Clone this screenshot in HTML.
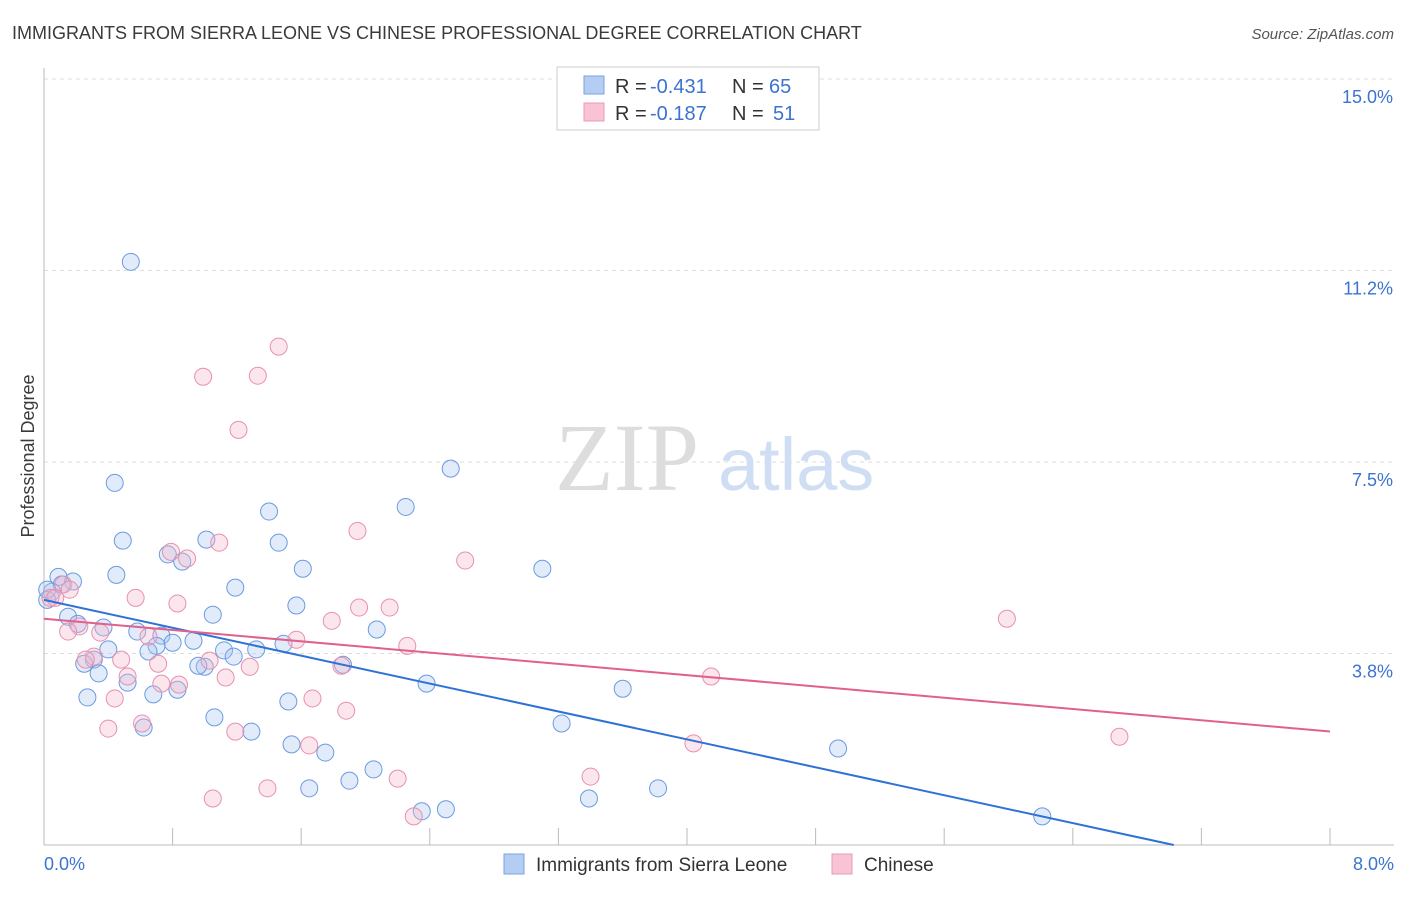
<!DOCTYPE html>
<html><head><meta charset="utf-8"><style>
body{margin:0;background:#fff;font-family:"Liberation Sans",sans-serif;}
</style></head><body>
<svg width="1406" height="892" viewBox="0 0 1406 892" xmlns="http://www.w3.org/2000/svg">
<text x="12" y="39" font-size="18" fill="#3a3a3a">IMMIGRANTS FROM SIERRA LEONE VS CHINESE PROFESSIONAL DEGREE CORRELATION CHART</text>
<text x="1394" y="39" font-size="15" fill="#555" font-style="italic" text-anchor="end">Source: ZipAtlas.com</text>
<g id="grid"></g>
<text x="555" y="490" font-size="96" fill="#ddd" font-family="Liberation Serif,serif">ZIP</text>
<text x="718" y="490" font-size="74" fill="#d0def3">atlas</text>
<text x="34" y="456" font-size="18" fill="#3a3a3a" transform="rotate(-90 34 456)" text-anchor="middle">Professional Degree</text>
<g id="marks"></g>
<g>
<rect x="557" y="67" width="262" height="63" fill="#fff" stroke="#ccc"/>
<rect x="584" y="76" width="20" height="18" fill="#b4cdf2" stroke="#7aa3e0"/>
<rect x="584" y="103" width="20" height="18" fill="#f8c3d4" stroke="#eb9ab5"/>
<text x="615" y="93" font-size="20" fill="#333">R =</text>
<text x="650" y="93" font-size="20" fill="#3b73d1">-0.431</text>
<text x="732" y="93" font-size="20" fill="#333">N =</text>
<text x="769" y="93" font-size="20" fill="#3b73d1">65</text>
<text x="615" y="120" font-size="20" fill="#333">R =</text>
<text x="650" y="120" font-size="20" fill="#3b73d1">-0.187</text>
<text x="732" y="120" font-size="20" fill="#333">N =</text>
<text x="773" y="120" font-size="20" fill="#3b73d1">51</text>
</g>
<g>
<rect x="504" y="854" width="20" height="20" fill="#b4cdf2" stroke="#7aa3e0"/>
<text x="536" y="871" font-size="19" fill="#333">Immigrants from Sierra Leone</text>
<rect x="832" y="854" width="20" height="20" fill="#f8c3d4" stroke="#eb9ab5"/>
<text x="864" y="871" font-size="19" fill="#333">Chinese</text>
</g>
</svg>
<script>
const xTicks=[0,0.8,1.6,2.4,3.2,4,4.8,5.6,6.4,7.2,8];
const yTicks=[3.75,7.5,11.25,15];
const yTickLabels=["3.8%","7.5%","11.2%","15.0%"];
const xTickLabels=["0.0%","8.0%"];
const blueX=[0.54,0.44,2.53,2.25,1.40,0.49,1.01,1.46,0.77,0.86,1.61,3.10,0.45,0.18,0.09,0.11,1.19,0.05,1.57,1.05,0.15,0.21,2.07,0.37,0.58,0.73,0.93,0.80,0.70,1.49,1.32,0.40,1.12,0.65,1.18,0.31,0.25,1.00,0.96,1.86,0.34,0.52,2.38,3.60,0.83,0.68,0.27,1.52,1.06,3.22,0.62,1.29,1.54,1.75,4.94,2.05,1.90,1.65,3.82,3.39,2.35,2.50,6.21,0.02,0.02];
const blueY=[11.42,7.09,7.37,6.62,6.53,5.96,5.98,5.92,5.69,5.55,5.41,5.41,5.29,5.16,5.25,5.10,5.04,4.96,4.69,4.51,4.47,4.33,4.22,4.26,4.18,4.10,4.00,3.96,3.90,3.94,3.83,3.83,3.81,3.79,3.69,3.63,3.55,3.49,3.51,3.53,3.36,3.18,3.16,3.06,3.04,2.95,2.89,2.81,2.50,2.38,2.30,2.22,1.97,1.81,1.89,1.48,1.26,1.11,1.11,0.91,0.66,0.70,0.56,4.80,5.00];
const pinkX=[1.46,0.99,1.33,1.21,1.95,1.09,2.62,0.79,0.89,0.57,0.83,0.04,0.12,1.96,2.15,5.99,1.79,0.22,0.35,0.15,0.65,1.57,2.26,0.31,0.48,1.03,0.71,1.28,1.85,0.52,1.13,0.84,0.73,0.44,1.67,1.88,4.15,0.61,0.40,1.19,1.65,4.04,6.69,2.20,3.40,1.39,1.05,2.30,0.07,0.16,0.26];
const pinkY=[9.76,9.17,9.19,8.13,6.15,5.92,5.57,5.74,5.61,4.84,4.73,4.84,5.10,4.65,4.65,4.43,4.39,4.28,4.16,4.18,4.08,4.02,3.90,3.69,3.63,3.61,3.55,3.49,3.51,3.30,3.28,3.14,3.16,2.87,2.87,2.63,3.30,2.38,2.28,2.22,1.95,1.99,2.12,1.30,1.34,1.11,0.91,0.56,4.84,5.00,3.63];
const blueTrend=[4.80,-0.683];
const pinkTrend=[4.43,-0.276];
const X0=44,X1=1330,Y0=845,YTOP=79;
const xs=v=>X0+v/8*(X1-X0);
const ys=v=>Y0-v/15*(Y0-YTOP);
const NS="http://www.w3.org/2000/svg";
function mk(p,t,a){const e=document.createElementNS(NS,t);for(const k in a)e.setAttribute(k,a[k]);p.appendChild(e);return e;}
const g=document.getElementById('grid');
yTicks.forEach((t,i)=>{
 const l=mk(g,'line',{x1:X0,x2:1394,y1:ys(t),y2:ys(t),stroke:'#ddd','stroke-dasharray':'4,4'});
 
 
 const tx=mk(g,'text',{x:1393,y:ys(t)+24,'font-size':18,fill:'#3b73d1','text-anchor':'end'});
 tx.textContent=yTickLabels[i];
 
 
});
const ax=mk(g,'line',{x1:X0,x2:1394,y1:Y0,y2:Y0,stroke:'#bbb'});


const ay=mk(g,'line',{x1:X0,x2:X0,y1:68,y2:Y0,stroke:'#bbb'});


xTicks.forEach(t=>{
 const l=mk(g,'line',{x1:xs(t),x2:xs(t),y1:Y0,y2:Y0-17,stroke:'#bbb'});
 
 
});
[[0,'start',44],[8,'end',1394]].forEach((d,i)=>{
 const tx=mk(g,'text',{x:d[2],y:870,'font-size':18,fill:'#3b73d1','text-anchor':d[1]});
 tx.textContent=xTickLabels[i];
 
 
});
const m=document.getElementById('marks');
function pts(X,Y,fill,stroke,name){
 X.forEach((x,i)=>{
  const c=mk(m,'circle',{cx:xs(x),cy:ys(Y[i]),r:8.5,fill:fill,'fill-opacity':0.35,stroke:stroke,'stroke-width':1});
  
  
 });
}
pts(blueX,blueY,'#a8c6f0','#6a9be0','sierra-leone-point');
pts(pinkX,pinkY,'#f5b8cc','#e890ad','chinese-point');
const bEnd=-blueTrend[0]/blueTrend[1];
const bl=mk(m,'line',{x1:xs(0),y1:ys(blueTrend[0]),x2:xs(bEnd),y2:ys(0),stroke:'#2f72d6','stroke-width':2});


const pl=mk(m,'line',{x1:xs(0),y1:ys(pinkTrend[0]),x2:xs(8),y2:ys(pinkTrend[0]+pinkTrend[1]*8),stroke:'#e0608e','stroke-width':2});


</script>
</body></html>
